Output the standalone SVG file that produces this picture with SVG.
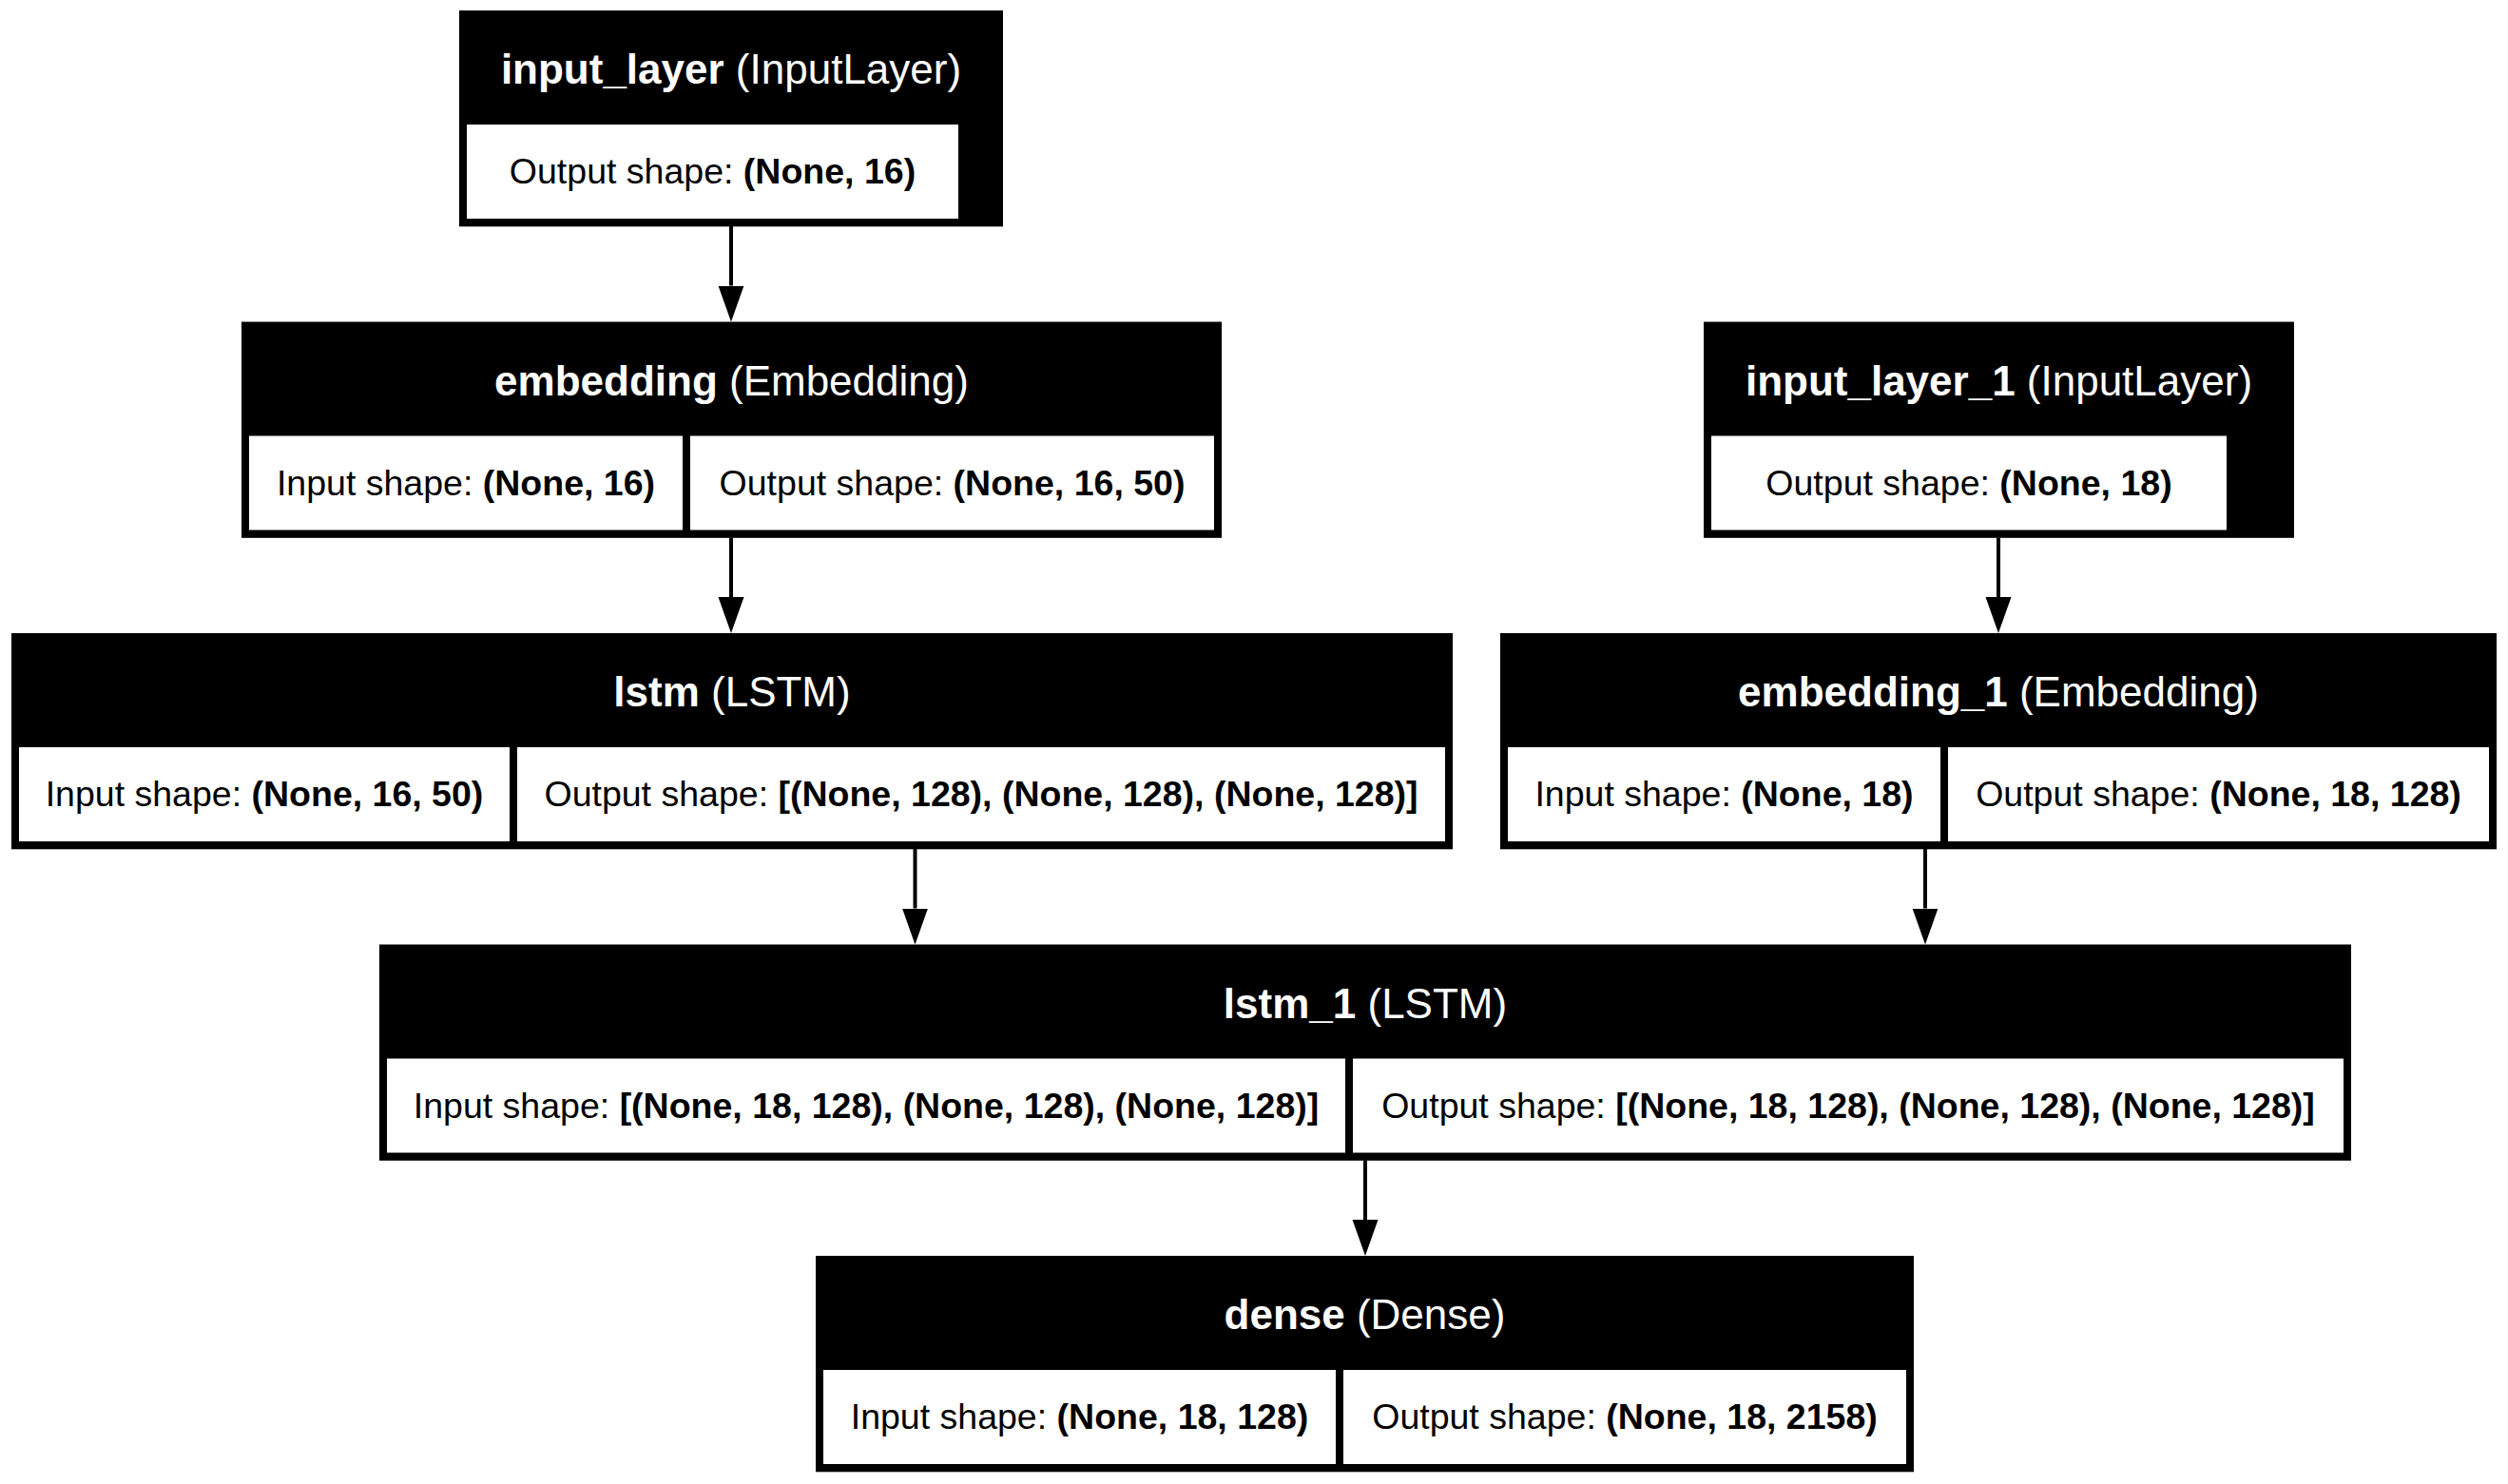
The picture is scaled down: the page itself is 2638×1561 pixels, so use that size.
<svg xmlns="http://www.w3.org/2000/svg" width="2638" height="1561" viewBox="0 0 2638 1561">
<style>
  .outer { fill: #000; }
  .cell { fill: #fff; }
  text { font-family: "Liberation Sans", Arial, Helvetica, sans-serif; text-anchor: middle; }
  .title { font-size: 44px; fill: #fff; }
  .body { font-size: 37.5px; fill: #000; }
  .b { font-weight: bold; }
  .edge { stroke: #000; stroke-width: 4; fill: none; }
</style>
<defs>
  <marker id="arrow" markerUnits="userSpaceOnUse" markerWidth="38" markerHeight="28" refX="0" refY="13.5" orient="auto" viewBox="0 0 38 27">
    <path d="M0,0 L38,13.5 L0,27 Z" fill="#000"/>
  </marker>
</defs>
<rect width="2638" height="1561" fill="#fff"/>

<g id="connectors">
  <line class="edge" x1="769" y1="238" x2="769" y2="300.5" marker-end="url(#arrow)"/>
  <line class="edge" x1="769" y1="565.5" x2="769" y2="628" marker-end="url(#arrow)"/>
  <line class="edge" x1="2102" y1="565.5" x2="2102" y2="628" marker-end="url(#arrow)"/>
  <line class="edge" x1="962.5" y1="893" x2="962.5" y2="955.5" marker-end="url(#arrow)"/>
  <line class="edge" x1="2025" y1="893" x2="2025" y2="955.5" marker-end="url(#arrow)"/>
  <line class="edge" x1="1436" y1="1220.5" x2="1436" y2="1283" marker-end="url(#arrow)"/>
</g>

<g id="input_layer">
  <rect class="outer" x="483" y="11" width="572" height="227.3"/>
  <rect class="cell" x="491" y="131" width="517" height="99"/>
  <text class="title" x="769" y="88"><tspan class="b">input_layer</tspan> (InputLayer)</text>
  <text class="body" x="749.5" y="193">Output shape: <tspan class="b">(None, 16)</tspan></text>
</g>

<g id="embedding">
  <rect class="outer" x="254" y="338.5" width="1031" height="227.3"/>
  <rect class="cell" x="262" y="458.5" width="456" height="99"/>
  <rect class="cell" x="726" y="458.5" width="551" height="99"/>
  <text class="title" x="769.5" y="415.5"><tspan class="b">embedding</tspan> (Embedding)</text>
  <text class="body" x="490" y="520.5">Input shape: <tspan class="b">(None, 16)</tspan></text>
  <text class="body" x="1001.5" y="520.5">Output shape: <tspan class="b">(None, 16, 50)</tspan></text>
</g>

<g id="input_layer_1">
  <rect class="outer" x="1792" y="338.5" width="621" height="227.3"/>
  <rect class="cell" x="1800" y="458.5" width="542" height="99"/>
  <text class="title" x="2102.5" y="415.5"><tspan class="b">input_layer_1</tspan> (InputLayer)</text>
  <text class="body" x="2071" y="520.5">Output shape: <tspan class="b">(None, 18)</tspan></text>
</g>

<g id="lstm">
  <rect class="outer" x="12" y="666" width="1516" height="227.3"/>
  <rect class="cell" x="20" y="786" width="516" height="99"/>
  <rect class="cell" x="544" y="786" width="976" height="99"/>
  <text class="title" x="770" y="743"><tspan class="b">lstm</tspan> (LSTM)</text>
  <text class="body" x="278" y="848">Input shape: <tspan class="b">(None, 16, 50)</tspan></text>
  <text class="body" x="1032" y="848">Output shape: <tspan class="b">[(None, 128), (None, 128), (None, 128)]</tspan></text>
</g>

<g id="embedding_1">
  <rect class="outer" x="1578" y="666" width="1048" height="227.3"/>
  <rect class="cell" x="1586" y="786" width="455" height="99"/>
  <rect class="cell" x="2049" y="786" width="569" height="99"/>
  <text class="title" x="2102" y="743"><tspan class="b">embedding_1</tspan> (Embedding)</text>
  <text class="body" x="1813.5" y="848">Input shape: <tspan class="b">(None, 18)</tspan></text>
  <text class="body" x="2333.5" y="848">Output shape: <tspan class="b">(None, 18, 128)</tspan></text>
</g>

<g id="lstm_1">
  <rect class="outer" x="399" y="993.5" width="2074" height="227.3"/>
  <rect class="cell" x="407" y="1113.5" width="1008" height="99"/>
  <rect class="cell" x="1423" y="1113.5" width="1042" height="99"/>
  <text class="title" x="1436" y="1070.5"><tspan class="b">lstm_1</tspan> (LSTM)</text>
  <text class="body" x="911" y="1175.5">Input shape: <tspan class="b">[(None, 18, 128), (None, 128), (None, 128)]</tspan></text>
  <text class="body" x="1944" y="1175.5">Output shape: <tspan class="b">[(None, 18, 128), (None, 128), (None, 128)]</tspan></text>
</g>

<g id="dense">
  <rect class="outer" x="858" y="1321" width="1155" height="227.3"/>
  <rect class="cell" x="866" y="1441" width="539" height="99"/>
  <rect class="cell" x="1413" y="1441" width="592" height="99"/>
  <text class="title" x="1435.5" y="1398"><tspan class="b">dense</tspan> (Dense)</text>
  <text class="body" x="1135.5" y="1503">Input shape: <tspan class="b">(None, 18, 128)</tspan></text>
  <text class="body" x="1709" y="1503">Output shape: <tspan class="b">(None, 18, 2158)</tspan></text>
</g>
</svg>
